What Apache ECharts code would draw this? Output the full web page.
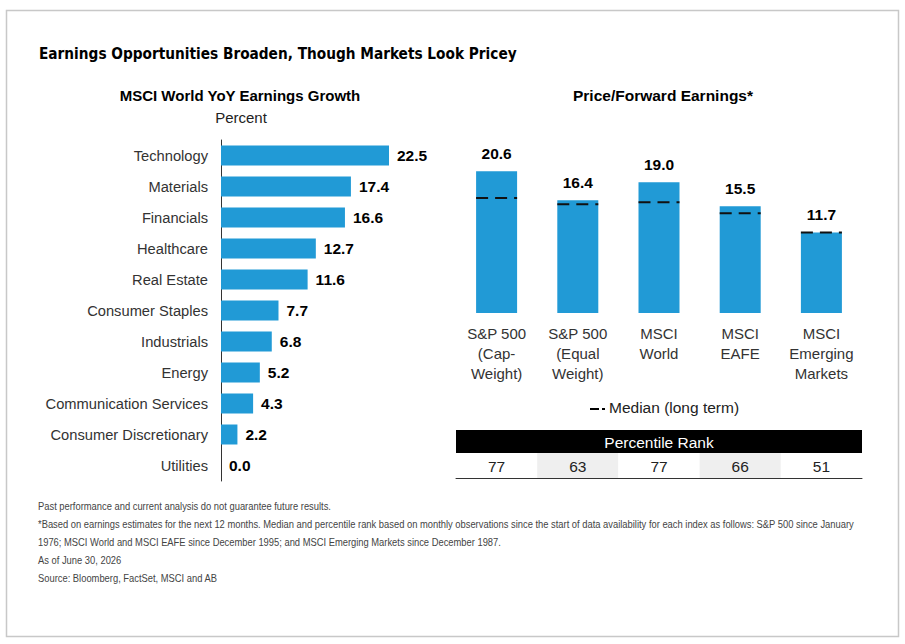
<!DOCTYPE html>
<html><head><meta charset="utf-8">
<script src="https://cdn.jsdelivr.net/npm/echarts@6/dist/echarts.min.js"></script>
<style>html,body{margin:0;padding:0;background:#fff}#c{width:905px;height:644px}</style>
</head><body><div id="c"></div>
<script>
const mainTitle = 'Earnings Opportunities Broaden, Though Markets Look Pricey';
const leftTitle = 'MSCI World YoY Earnings Growth';
const leftSubtitle = 'Percent';
const rightTitle = 'Price/Forward Earnings*';
const sectors = ['Technology','Materials','Financials','Healthcare','Real Estate','Consumer Staples','Industrials','Energy','Communication Services','Consumer Discretionary','Utilities'];
const growth = [22.5,17.4,16.6,12.7,11.6,7.7,6.8,5.2,4.3,2.2,0.0];
const indices = ['S&P 500\n(Cap-\nWeight)','S&P 500\n(Equal\nWeight)','MSCI\nWorld','MSCI\nEAFE','MSCI\nEmerging\nMarkets'];
const peForward = [20.6,16.4,19.0,15.5,11.7];
const peMedian = [16.7,15.8,16.1,14.5,11.7];
const percentileRank = [77,63,77,66,51];
const legendLabel = 'Median (long term)';
const tableHeader = 'Percentile Rank';
const footnotes = [
 'Past performance and current analysis do not guarantee future results.',
 '*Based on earnings estimates for the next 12 months. Median and percentile rank based on monthly observations since the start of data availability for each index as follows: S&P 500 since January',
 '1976; MSCI World and MSCI EAFE since December 1995; and MSCI Emerging Markets since December 1987.',
 'As of June 30, 2026',
 'Source: Bloomberg, FactSet, MSCI and AB'
];

const BLUE = '#219AD6';
const FONT = '"Liberation Sans", Arial, sans-serif';
const TITLE_FONT = 'bold 16px "DejaVu Sans Condensed", sans-serif';
const NOTE_FONT = '10.5px "Liberation Sans", Arial, sans-serif';

const ctx = document.createElement('canvas').getContext('2d');
ctx.font = TITLE_FONT;
const titleScale = 478 / ctx.measureText(mainTitle).width;
ctx.font = NOTE_FONT;
const noteScale = 817 / ctx.measureText(footnotes[1]).width;

const chart = echarts.init(document.getElementById('c'), null, {renderer: 'svg'});

const graphics = [
  {type:'rect', shape:{x:6.5,y:10.5,width:892,height:626}, style:{fill:'none',stroke:'#c8c8c8',lineWidth:1.5}, silent:true},
  {type:'text', x:39, y:54, scaleX:titleScale, style:{text:mainTitle, font:TITLE_FONT, fill:'#000', verticalAlign:'middle'}},
  {type:'text', x:240, y:95, style:{text:leftTitle, font:'bold 15px '+FONT, fill:'#000', align:'center', verticalAlign:'middle'}},
  {type:'text', x:241, y:117, style:{text:leftSubtitle, font:'15px '+FONT, fill:'#222', align:'center', verticalAlign:'middle'}},
  {type:'text', x:663, y:95, style:{text:rightTitle, font:'bold 15.5px '+FONT, fill:'#000', align:'center', verticalAlign:'middle'}},
  {type:'line', shape:{x1:590,y1:409,x2:599,y2:409}, style:{stroke:'#000',lineWidth:2}},
  {type:'line', shape:{x1:602,y1:409,x2:605,y2:409}, style:{stroke:'#000',lineWidth:2}},
  {type:'text', x:609, y:407, style:{text:legendLabel, font:'15.5px '+FONT, fill:'#222', verticalAlign:'middle'}},
  {type:'rect', shape:{x:456,y:430,width:406,height:23}, style:{fill:'#000'}},
  {type:'text', x:659, y:442, style:{text:tableHeader, font:'15.5px '+FONT, fill:'#fff', align:'center', verticalAlign:'middle'}}
];
footnotes.forEach((t,i)=>{
  graphics.push({type:'text', x:38, y:506+i*18, scaleX:noteScale, style:{text:t, font:NOTE_FONT, fill:'#444', verticalAlign:'middle'}});
});

const option = {
  animation:false,
  textStyle:{fontFamily:FONT},
  graphic: graphics,
  grid:[
    {left:221, top:140, width:168, height:341},
    {left:456, top:141, width:406, height:172},
    {left:456, top:453, width:406, height:25}
  ],
  xAxis:[
    {gridIndex:0, type:'value', min:0, max:22.5, show:false},
    {gridIndex:1, type:'category', data:indices, axisLine:{show:false}, axisTick:{show:false},
      axisLabel:{fontSize:15, color:'#333', lineHeight:20, margin:10, interval:0}},
    {gridIndex:2, type:'category', data:indices, axisLine:{show:true, lineStyle:{color:'#333', width:1}}, axisTick:{show:false}, axisLabel:{show:false}}
  ],
  yAxis:[
    {gridIndex:0, type:'category', data:sectors, inverse:true, axisLine:{show:true, lineStyle:{color:'#333', width:1}}, axisTick:{show:false},
      axisLabel:{fontSize:14.7, color:'#333', margin:13}},
    {gridIndex:1, type:'value', min:0, max:25, show:false},
    {gridIndex:2, type:'value', min:0, max:1, show:false}
  ],
  series:[
    {type:'bar', xAxisIndex:0, yAxisIndex:0, data:growth, barWidth:20, itemStyle:{color:BLUE},
      label:{show:true, position:'right', distance:8, fontSize:15.5, fontWeight:'bold', color:'#000', formatter:p=>p.value.toFixed(1)}},
    {type:'bar', xAxisIndex:1, yAxisIndex:1, data:peForward, barWidth:41, itemStyle:{color:BLUE},
      label:{show:true, position:'top', distance:10, fontSize:15.5, fontWeight:'bold', color:'#000', formatter:p=>p.value.toFixed(1)}},
    {type:'custom', xAxisIndex:1, yAxisIndex:1, data:peMedian.map((v,i)=>[i,v]), z:5,
      renderItem:(params, api)=>{
        const p = api.coord([api.value(0), api.value(1)]);
        return {type:'line', shape:{x1:p[0]-20.5, y1:p[1], x2:p[0]+20.5, y2:p[1]},
          style:{stroke:'#111', lineWidth:2, lineDash:[12,7]}};
      }},
    {type:'custom', xAxisIndex:2, yAxisIndex:2, data:percentileRank.map((v,i)=>[i,v]),
      renderItem:(params, api)=>{
        const i = api.value(0);
        const c = api.coord([i, 0]);
        const w = api.size([1,0])[0];
        const cs = params.coordSys;
        return {type:'group', children:[
          {type:'rect', shape:{x:c[0]-w/2, y:cs.y, width:w, height:cs.height}, style:{fill: i%2===1 ? '#efefef' : '#fff'}},
          {type:'text', x:c[0], y:cs.y+cs.height/2+1, style:{text:String(api.value(1)), font:'15.5px '+FONT, fill:'#222', align:'center', verticalAlign:'middle'}}
        ]};
      }}
  ]
};
chart.setOption(option);
</script></body></html>
